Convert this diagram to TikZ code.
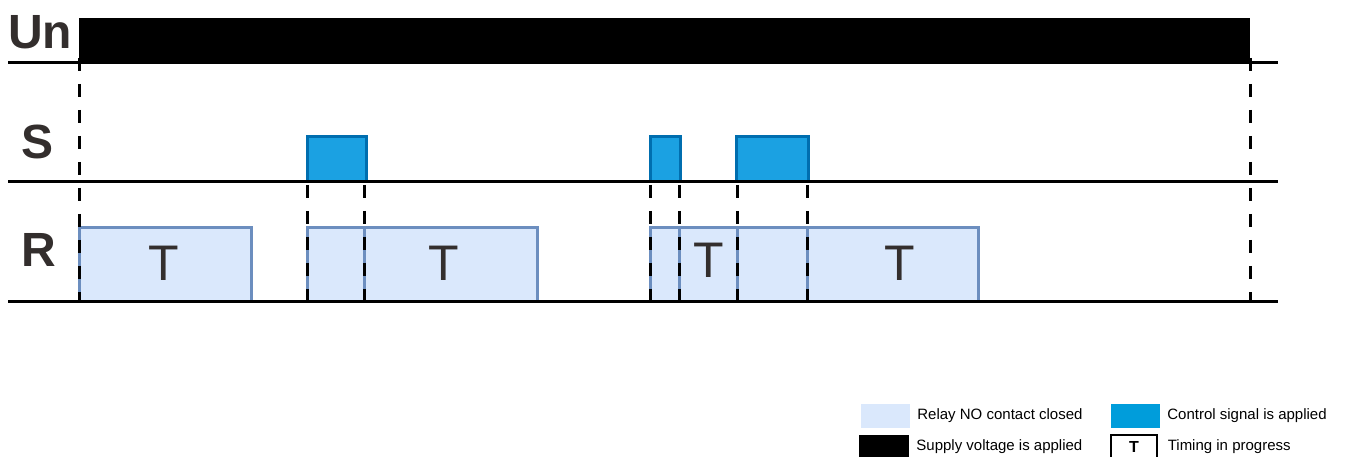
\documentclass[tikz,border=0pt]{standalone}
\usepackage{fontspec}
\setmainfont{Liberation Sans}
\usetikzlibrary{positioning}
\definecolor{tdInk}{HTML}{000000}
\definecolor{tdLabel}{HTML}{332E2D}
\definecolor{tdRelay}{HTML}{DAE8FC}
\definecolor{tdRelayEdge}{HTML}{6C8EBF}
\definecolor{tdSig}{HTML}{1BA1E2}
\definecolor{tdSigEdge}{HTML}{006EAF}
\definecolor{tdSigKey}{HTML}{009DDB}
\tikzset{
  base/.style={line width=3pt, draw=tdInk},
  marker/.style={line width=3pt, draw=tdInk, dash pattern=on 13pt off 13pt},
  sig/.style={fill=tdSig, draw=tdSigEdge, line width=3pt},
  rly/.style={fill=tdRelay, draw=tdRelayEdge, line width=3pt},
  lane/.style={font=\fontsize{48}{48}\selectfont\bfseries, text=tdLabel, inner sep=0pt},
  tlab/.style={font=\fontsize{50}{50}\selectfont, text=tdLabel, inner sep=0pt},
  key/.style={minimum width=49pt, minimum height=24pt, inner sep=0pt},
  keytxt/.style={font=\fontsize{15}{15}\selectfont, inner sep=0pt},
}
\begin{document}
\begin{tikzpicture}[x=1pt, y=-1pt]
  \useasboundingbox (0,0) rectangle (1347,457);
  % supply voltage
  \fill[tdInk] (79,18) rectangle (1250,64);
  % control signal pulses
  \draw[sig] (307,137) rectangle (366,182);
  \draw[sig] (650,137) rectangle (680,182);
  \draw[sig] (736,137) rectangle (808,182);
  % relay contact
  \draw[rly] (79,228) rectangle (251,301);
  \draw[rly] (307,228) rectangle (537,301);
  \draw[rly] (364,228) -- (364,301);
  \draw[rly] (650,228) rectangle (978,301);
  \foreach \x in {679,737,807} \draw[rly] (\x,228) -- (\x,301);
  % time markers
  \foreach \x in {79,1250} \draw[marker] (\x,58) -- (\x,301);
  \foreach \x in {307,364,650,679,737,807} \draw[marker] (\x,185) -- (\x,301);
  % lane baselines
  \foreach \y in {63,182,301} \draw[base] (8,\y) -- (1278,\y);
  % lane labels
  \node[lane] (un) at (40,32) {Un};
  \node[lane] (s) at (38,142) {S};
  \node[lane] (r) at (39,250) {R};
  \node[tlab] (t1) at (164,263) {T};
  \node[tlab] (t2) at (444,263) {T};
  \node[tlab] (t3) at (709,260) {T};
  \node[tlab] (t4) at (900,263) {T};
  % legend
  \node[key, fill=tdRelay] (k1) at (885.5,416) {};
  \node[keytxt, right=7pt of k1] (k1t) {Relay NO contact closed};
  \node[key, fill=tdInk, minimum width=50pt] (k2) at (884,447) {};
  \node[keytxt, right=7pt of k2] (k2t) {Supply voltage is applied};
  \node[key, fill=tdSigKey] (k3) at (1135.5,416) {};
  \node[keytxt, right=7pt of k3] (k3t) {Control signal is applied};
  \node[key, draw=tdInk, line width=1.2pt, minimum width=46pt, font=\fontsize{16}{16}\selectfont\bfseries] (k4) at (1134,447) {T};
  \node[keytxt, right=10pt of k4] (k4t) {Timing in progress};
\end{tikzpicture}
\end{document}
